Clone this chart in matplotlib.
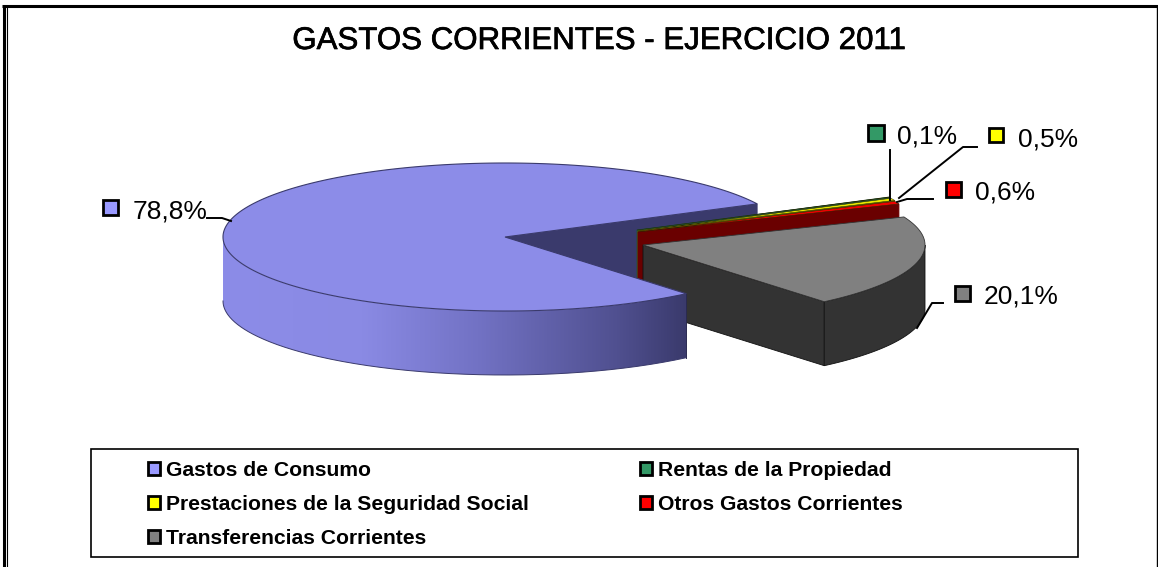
import numpy as np
import matplotlib
matplotlib.use("Agg")
import matplotlib.pyplot as plt
import matplotlib.patheffects as pe
from matplotlib.patches import Polygon, Rectangle, Patch
from matplotlib.colors import LinearSegmentedColormap

plt.rcParams['font.family'] = ['Liberation Sans', 'DejaVu Sans']

title = "GASTOS CORRIENTES - EJERCICIO 2011"
categories = ["Gastos de Consumo", "Rentas de la Propiedad",
              "Prestaciones de la Seguridad Social", "Otros Gastos Corrientes",
              "Transferencias Corrientes"]
values = [78.8, 0.1, 0.5, 0.6, 20.1]
labels = ["78,8%", "0,1%", "0,5%", "0,6%", "20,1%"]
colors = ["#9999ff", "#339966", "#ffff00", "#ff0000", "#808080"]
tops = ["#8c8ce8", "#339966", "#e8e800", "#ee0000", "#808080"]
walls = ["#3a3a6c", "#1c5538", "#6e6e00", "#6a0000", "#333333"]

W, H = 1158, 567
RX, RY, DEPTH = 282, 74, 64
CX, CY = 505, 237
START = 310.0
# pixel offset of each slice from the pie centre
offsets = [(0, 0), (132, -7), (133, -6), (133, -5), (138, 8)]

fig = plt.figure(figsize=(W / 100, H / 100), dpi=100)
ax = fig.add_axes([0, 0, 1, 1])
ax.set_axis_off()

# angular extents, clockwise from START
fr = np.array(values) / np.sum(values) * 360
a_hi = START - np.concatenate(([0], np.cumsum(fr)[:-1]))
a_lo = a_hi - fr


def rim(i, a, dz=0.0):
    t = np.radians(a)
    return np.c_[CX + offsets[i][0] + RX * np.cos(t),
                 CY + offsets[i][1] - RY * np.sin(t) + dz]


def arc(i, lo, hi, dz=0.0):
    return rim(i, np.linspace(lo, hi, max(int(abs(hi - lo) * 2), 2)), dz)


def centre(i, dz=0.0):
    return np.array([[CX + offsets[i][0], CY + offsets[i][1] + dz]])


def top_face(i, z, lw=0.8, ec=None):
    pts = np.vstack([centre(i), arc(i, a_lo[i], a_hi[i])])
    ax.add_patch(Polygon(pts, closed=True, fc=tops[i], ec=ec or walls[i], lw=lw, zorder=z))


def cut_face(i, a, z):
    p = rim(i, a)
    pts = np.vstack([centre(i), p, p + [0, DEPTH], centre(i, DEPTH)])
    ax.add_patch(Polygon(pts, closed=True, fc=walls[i], ec=walls[i], lw=0.6, zorder=z))


# Blue slice inner wall (the face at the end of its sweep)
cut_face(0, a_lo[0], 1)

# Small slices, back to front
z = 2
for i in (1, 2, 3):
    cut_face(i, a_lo[i], z)
    top_face(i, z + 0.1, lw=0.35, ec="#222200")
    z += 1

# Grey slice
i = 4
ang4 = (a_hi[4] - 360) if a_hi[4] > 180 else a_hi[4]
ang4lo = ang4 - fr[4]
pts = np.vstack([centre(i), rim(i, ang4lo), rim(i, ang4lo) + [0, DEPTH], centre(i, DEPTH)])
ax.add_patch(Polygon(pts, closed=True, fc=walls[i], ec="#111111", lw=0.6, zorder=6))
up = arc(i, ang4lo, 0)
pts = np.vstack([up, (up + [0, DEPTH])[::-1]])
ax.add_patch(Polygon(pts, closed=True, fc=walls[i], ec="#111111", lw=0.6, zorder=6))
pts = np.vstack([centre(i), arc(i, ang4lo, ang4)])
ax.add_patch(Polygon(pts, closed=True, fc=tops[i], ec="#333333", lw=0.6, zorder=7))

# Blue slice top and curved front wall with gradient
end0 = a_hi[0]  # 310 deg
front_top = arc(0, 180, end0)
front_poly = Polygon(np.vstack([front_top, (front_top + [0, DEPTH])[::-1]]),
                     closed=True, fc="none", ec="none", zorder=8)
ax.add_patch(front_poly)
cmap = LinearSegmentedColormap.from_list(
    "blue", [(0, "#8c8ce8"), (0.3, "#8a8ae4"), (0.55, "#7272c4"), (0.85, "#505090"), (1, "#3a3a6c")])
x0, x1 = front_top[:, 0].min(), front_top[:, 0].max()
im = ax.imshow(np.linspace(0, 1, 256)[None, :], cmap=cmap, aspect="auto",
               extent=(x0, x1, 400, 200), zorder=8)
im.set_clip_path(front_poly)
top_face(0, 9)
ax.plot(*np.vstack([front_top + [0, DEPTH]]).T, color="#3a3a6c", lw=0.7, zorder=9)
ax.plot([x1, x1], [front_top[-1, 1], front_top[-1, 1] + DEPTH], color="#2a2a50", lw=0.7, zorder=9)

# Title
ax.text(599, 41, title, ha="center", va="center", fontsize=22.5, color="black", zorder=20,
        path_effects=[pe.withStroke(linewidth=0.5, foreground="black")])

# Data labels: (slice, marker x, marker y, marker size, text x, text y, leader)
callouts = [
    (0, 103, 200, 15, 133, 211, [(207, 218), (222, 218), (231, 221)]),
    (1, 868, 125, 16, 897, 136.5, [(890, 150), (890, 200)]),
    (2, 989, 128, 14, 1018, 139.5, [(977, 147), (963, 147), (899, 198)]),
    (3, 946, 182, 15, 975, 192.5, [(933, 199), (907, 199), (897, 202)]),
    (4, 955, 286, 15, 984, 296.5, [(943, 303), (932, 303), (917, 328)]),
]
for i, mx, my, ms, tx, ty, lead in callouts:
    ax.add_patch(Rectangle((mx, my), ms, ms, fc=colors[i], ec="black", lw=2, zorder=20))
    ax.text(tx, ty, labels[i], fontsize=19, ha="left", va="center", color="black", zorder=20)
    ax.plot(*np.array(lead).T, color="black", lw=1.4, zorder=19)

# Legend
ax.add_patch(Rectangle((91, 449), 987, 108, fc="white", ec="black", lw=1.2, zorder=15))
order = [0, 2, 4, 1, 3]
handles = [Patch(fc=colors[k], ec="black", lw=2, label=categories[k]) for k in order]
leg = ax.legend(handles=handles, ncol=2, frameon=False, loc="upper left",
                bbox_to_anchor=(142.7, 455.5), bbox_transform=ax.transData,
                prop={"size": 15.2, "weight": "bold"},
                handlelength=0.57, handleheight=0.6, handletextpad=0.3,
                labelspacing=0.716, columnspacing=5.23, borderpad=0.25, borderaxespad=0)
leg.set_zorder(16)

# Outer frame: thick left and top, thin inner left, thin right, no bottom
ax.plot([3.5, 3.5], [5.5, H], color="black", lw=2.2, zorder=25, solid_capstyle="butt")
ax.plot([6.5, 6.5], [7, H], color="black", lw=0.8, zorder=25, solid_capstyle="butt")
ax.plot([2, W], [5.5, 5.5], color="black", lw=2.2, zorder=25, solid_capstyle="butt")
ax.plot([1157, 1157], [5.5, H], color="black", lw=1.0, zorder=25, solid_capstyle="butt")

ax.set_xlim(0, W)
ax.set_ylim(H, 0)
fig.savefig("out.png", dpi=100, facecolor="white")
